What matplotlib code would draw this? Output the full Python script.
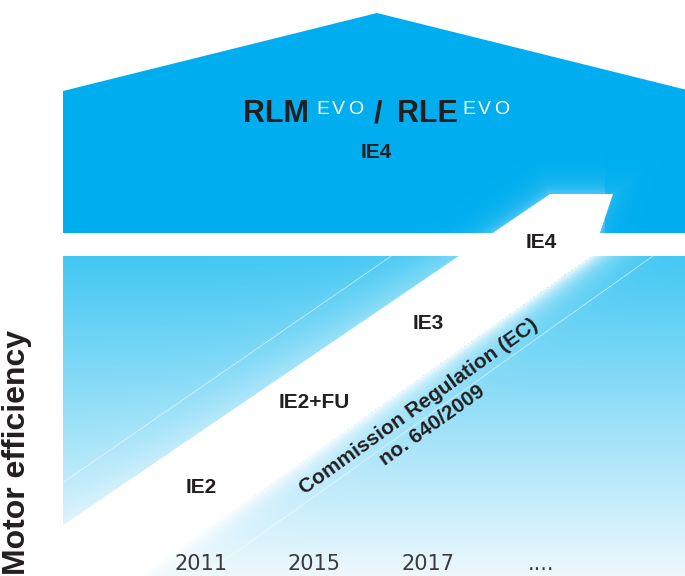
import numpy as np
import matplotlib.pyplot as plt
from matplotlib.patches import Polygon

# Daten
years = ['2011', '2015', '2017', '....']
classes = ['IE2', 'IE2+FU', 'IE3', 'IE4']
levels = [0.0, 1.05, 2.03, 3.02]  # Effizienzstufe je Jahr

W, H = 685, 576
TXT = '#231f20'
BOLD = dict(family='Liberation Sans', fontweight='bold', color=TXT)

fig = plt.figure(figsize=(6.85, 5.76), dpi=100)

# Hintergrund-Achse in Pixelkoordinaten (y nach unten)
bg = fig.add_axes([0, 0, 1, 1])
bg.set_xlim(0, W)
bg.set_ylim(H, 0)
bg.axis('off')


# Kanten des weissen Pfeils: a*x + y - c = 0
def edge(xx, yy, a, c):
    return (a * xx + yy - c) / np.hypot(a, 1)


UP_A, UP_C = 0.68, 568.0     # obere Kante
LO_A, LO_C = 0.71, 676.3     # untere Kante

# --- unteres Feld mit Verlauf ---
x0, y_lo = 63, 256
yy, xx = np.mgrid[y_lo:H, x0:W] + 0.5
t = ((yy - y_lo) / (H - y_lo))[..., None]
c_top = np.array([0x42, 0xc7, 0xf3]) / 255
c_bot = np.array([0xee, 0xf8, 0xfd]) / 255
img = c_top * (1 - t) + c_bot * t
d_up = edge(xx, yy, UP_A, UP_C)
d_lo = edge(xx, yy, LO_A, LO_C)
glow = np.maximum(np.where(d_up < 0, 0.3 * np.exp(d_up / 25), 0.0),
                  np.where(d_lo > 0, 0.9 * np.exp(-d_lo / 12), 0.0))
img = img * (1 - glow[..., None]) + glow[..., None]
bg.imshow(img, extent=(x0, W, H, y_lo), aspect='auto', interpolation='bilinear', zorder=1)

# feine helle Linien parallel zum Pfeil (nur im unteren Feld)
for c, a in ((526.0, 0.69), (719.6, 0.71)):
    xa = max(x0, (c - H) / a)
    xb = min(W, (c - y_lo) / a)
    bg.plot([xa, xb], [c - a * xa, c - a * xb], color='white', lw=0.6, alpha=0.6, zorder=2)

# weisser Pfeilkoerper im unteren Feld
band = Polygon([(x0, UP_C - UP_A * x0), ((UP_C - y_lo) / UP_A, y_lo),
                ((LO_C - y_lo) / LO_A, y_lo), ((LO_C - H) / LO_A, H), (x0, H)],
               closed=True, fc='white', ec='none', zorder=3)
bg.add_patch(band)

# --- oberes Feld (Haus) ---
roof_y, peak = 91, (377, 13)
y_top_bot = 233
house = Polygon([(x0, y_top_bot), (x0, roof_y), peak,
                 (W, peak[1] + (roof_y - peak[1]) / (peak[0] - x0) * (W - peak[0])),
                 (W, y_top_bot)], closed=True, fc='none', ec='none')
bg.add_patch(house)

tip_pts = [((UP_C - y_top_bot) / UP_A, y_top_bot), ((UP_C - 194) / UP_A, 194),
           (613, 194), (600, y_top_bot)]
yy2, xx2 = np.mgrid[0:y_top_bot, x0:W] + 0.5
img2 = np.ones(xx2.shape + (3,)) * (np.array([0x00, 0xae, 0xef]) / 255)
# Abstand zur Pfeilspitze (konvexes Polygon)
dists = []
for (ax_, ay_), (bx_, by_) in zip(tip_pts, tip_pts[1:] + tip_pts[:1]):
    nx, ny = (by_ - ay_), -(bx_ - ax_)
    n = np.hypot(nx, ny)
    dists.append(((xx2 - ax_) * nx + (yy2 - ay_) * ny) / n)
d_tip = np.max(dists, axis=0)
if d_tip[0, 0] < 0:
    d_tip = -np.min(dists, axis=0)
amp = np.where(xx2 > 605, 0.12, 0.3)
g2 = np.where(d_tip > 0, amp * np.exp(-d_tip / 10), 0)[..., None]
img2 = img2 * (1 - g2) + g2
im2 = bg.imshow(img2, extent=(x0, W, y_top_bot, 0), aspect='auto',
                interpolation='bilinear', zorder=1)
im2.set_clip_path(house)

# Pfeilspitze
tip = Polygon(tip_pts, closed=True, fc='white', ec='none', zorder=3)
bg.add_patch(tip)

# Titel
bg.text(243, 122.5, 'RLM', fontsize=22, va='baseline', ha='left', zorder=5, **BOLD)
bg.text(374, 122.5, '/', fontsize=22, va='baseline', ha='left', zorder=5, **BOLD)
bg.text(397, 122.5, 'RLE', fontsize=22, va='baseline', ha='left', zorder=5, **BOLD)
for start in (316, 462):
    for k, ch in enumerate('EVO'):
        bg.text(start + 16 * k, 113.5, ch, fontsize=14, family='Liberation Sans',
                color='white', va='baseline', ha='left', zorder=5)
bg.text(376.5, 152.5, 'IE4', fontsize=15, ha='center', va='center', zorder=5, **BOLD)

# y-Achsentitel
bg.text(2, 575, 'Motor efficiency', rotation=90, fontsize=23, ha='left', va='bottom',
        family='Liberation Sans', fontweight='bold', color=TXT, zorder=5)

# Datenachse: Jahr-Index x Effizienzstufe
ax = fig.add_axes([0, 0, 1, 1], facecolor='none')
ax.set_xlim(-201 / 113.5, (W - 201) / 113.5)
ax.set_ylim(-(H - 487.5) / 81, 487.5 / 81)
ax.axis('off')

idx = np.arange(len(years))
for i, (cls, lv) in enumerate(zip(classes, levels)):
    ax.text(idx[i], lv, cls, fontsize=15, ha='center', va='center', zorder=5, **BOLD)
for i, yr in enumerate(years):
    ax.text(idx[i], -0.95, yr, fontsize=15, ha='center', va='center',
            family='Liberation Sans Narrow', color='#3a3a3a', zorder=5)

ax.text(1.98, 0.88, 'Commission Regulation (EC)\nno. 640/2009', rotation=35.5,
        rotation_mode='anchor', ha='center', va='center', multialignment='center',
        linespacing=1.25, fontsize=15, zorder=5, **BOLD)

fig.savefig('out.png', dpi=100)
